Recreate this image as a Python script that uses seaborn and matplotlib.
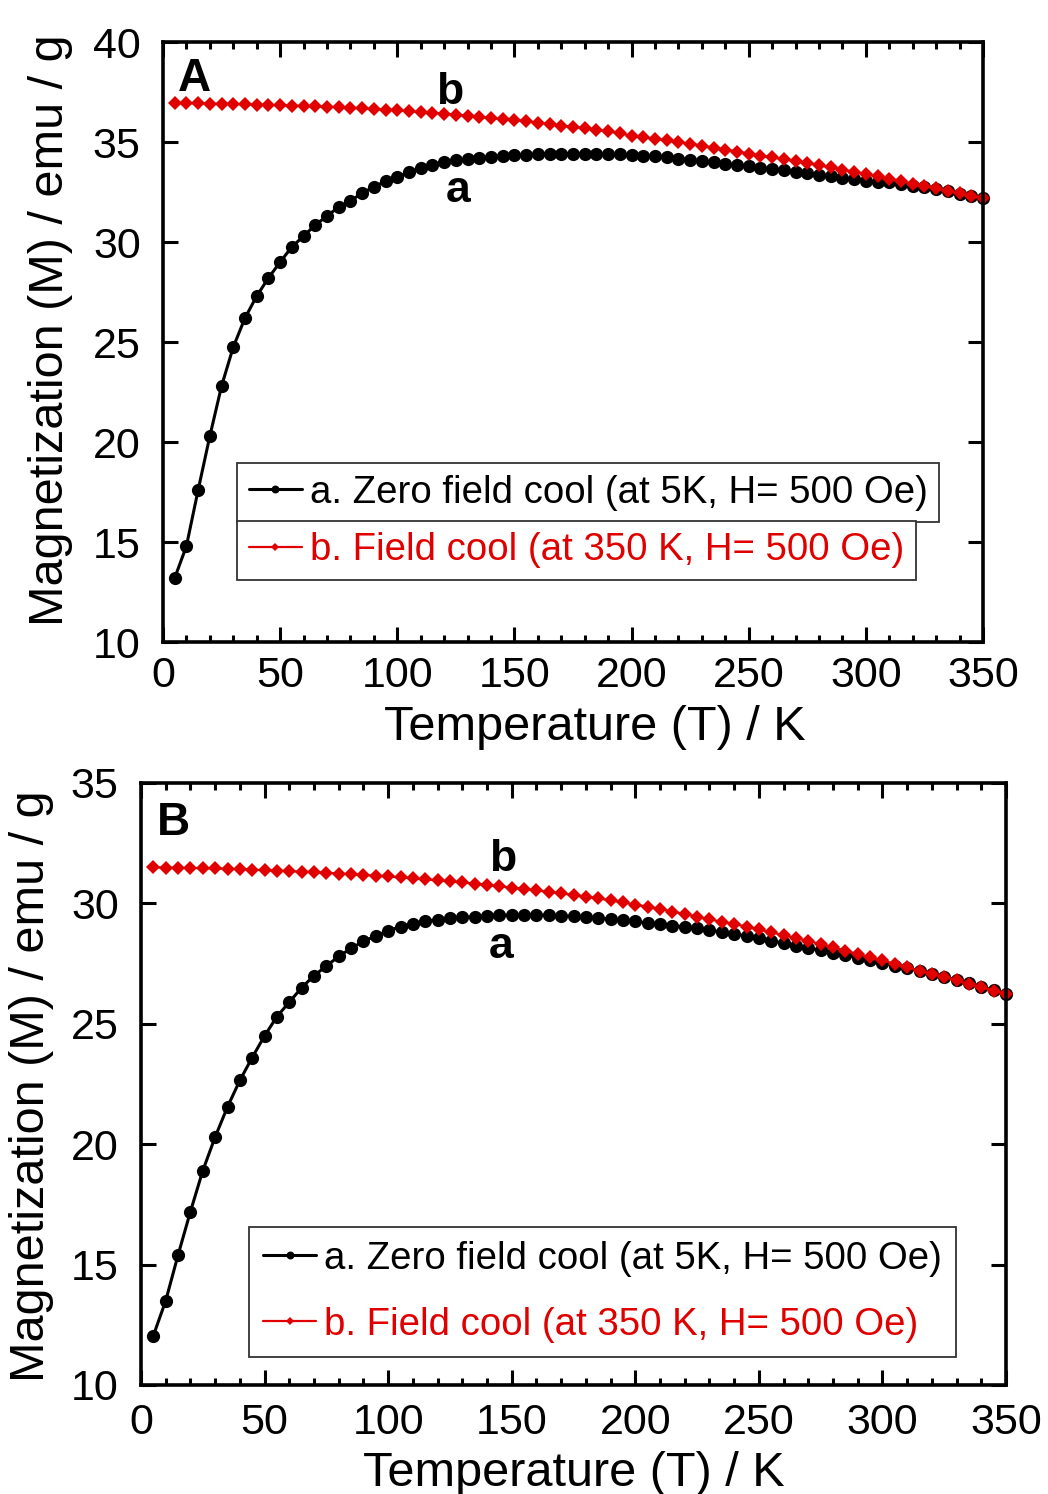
import numpy as np
import pandas as pd
import matplotlib
matplotlib.use("Agg")
import matplotlib.pyplot as plt
from matplotlib.ticker import MultipleLocator
import seaborn as sns

# Temperature grid (K)
temperature = list(range(5, 351, 5))

# Sample A: magnetization (emu/g)
zfc_a = [13.2, 14.8, 17.6, 20.3, 22.8, 24.75, 26.2, 27.3, 28.2, 29.0,
         29.75, 30.3, 30.85, 31.3, 31.75, 32.05, 32.45, 32.75, 33.05, 33.25,
         33.5, 33.7, 33.85, 34.0, 34.08, 34.15, 34.22, 34.27, 34.31, 34.34,
         34.37, 34.39, 34.4, 34.41, 34.41, 34.41, 34.4, 34.4, 34.38, 34.36,
         34.32, 34.28, 34.23, 34.17, 34.12, 34.06, 33.99, 33.92, 33.85, 33.78,
         33.71, 33.64, 33.58, 33.51, 33.44, 33.37, 33.3, 33.22, 33.14, 33.06,
         32.98, 32.98, 32.9, 32.82, 32.73, 32.64, 32.53, 32.42, 32.31, 32.2]
fc_a = [36.95, 36.94, 36.93, 36.92, 36.91, 36.9, 36.88, 36.87, 36.85, 36.84,
        36.82, 36.8, 36.78, 36.76, 36.74, 36.71, 36.68, 36.65, 36.62, 36.58,
        36.54, 36.5, 36.46, 36.42, 36.37, 36.32, 36.26, 36.2, 36.14, 36.1,
        36.04, 35.97, 35.9, 35.82, 35.76, 35.69, 35.62, 35.54, 35.43, 35.32,
        35.24, 35.16, 35.08, 35.0, 34.91, 34.82, 34.72, 34.62, 34.52, 34.42,
        34.32, 34.23, 34.14, 34.04, 33.94, 33.84, 33.73, 33.62, 33.51, 33.4,
        33.28, 33.16, 33.04, 32.92, 32.8, 32.68, 32.55, 32.43, 32.31, 32.2]

# Sample B: magnetization (emu/g)
zfc_b = [12.05, 13.5, 15.4, 17.2, 18.9, 20.3, 21.55, 22.65, 23.6, 24.5,
         25.3, 25.9, 26.5, 27.0, 27.4, 27.8, 28.13, 28.42, 28.65, 28.86,
         29.04, 29.16, 29.25, 29.33, 29.38, 29.42, 29.45, 29.48, 29.5, 29.51,
         29.52, 29.52, 29.51, 29.49, 29.46, 29.43, 29.39, 29.35, 29.3, 29.25,
         29.19, 29.13, 29.08, 29.02, 28.96, 28.89, 28.81, 28.73, 28.65, 28.55,
         28.45, 28.35, 28.25, 28.15, 28.05, 27.96, 27.85, 27.74, 27.63, 27.53,
         27.42, 27.31, 27.2, 27.08, 26.95, 26.82, 26.68, 26.53, 26.39, 26.24]
fc_b = [31.5, 31.49, 31.48, 31.47, 31.46, 31.45, 31.44, 31.42, 31.4, 31.38,
        31.36, 31.34, 31.32, 31.3, 31.27, 31.24, 31.21, 31.18, 31.15, 31.12,
        31.08, 31.04, 31.0, 30.96, 30.91, 30.87, 30.82, 30.77, 30.71, 30.66,
        30.6, 30.54, 30.48, 30.42, 30.35, 30.28, 30.21, 30.13, 30.04, 29.95,
        29.86, 29.77, 29.66, 29.56, 29.45, 29.34, 29.24, 29.14, 29.04, 28.92,
        28.8, 28.68, 28.56, 28.44, 28.31, 28.18, 28.04, 27.9, 27.76, 27.63,
        27.49, 27.35, 27.2, 27.07, 26.94, 26.8, 26.66, 26.52, 26.38, 26.24]

label_zfc = "a. Zero field cool (at 5K, H= 500 Oe)"
label_fc = "b. Field cool (at 350 K, H= 500 Oe)"

RED = "#E00000"

sns.set_style("ticks")
plt.rcParams["font.family"] = ["Liberation Sans", "DejaVu Sans"]
plt.rcParams["text.color"] = "black"
plt.rcParams["axes.labelcolor"] = "black"
plt.rcParams["xtick.color"] = "black"
plt.rcParams["ytick.color"] = "black"

W, H = 1048, 1494
fig = plt.figure(figsize=(W / 100, H / 100), dpi=100)


def px_axes(left, top, right, bottom):
    return fig.add_axes([left / W, 1 - bottom / H, (right - left) / W, (bottom - top) / H])


def draw_panel(ax, zfc, fc, ylim):
    df = pd.DataFrame({"T": temperature, "ZFC": zfc, "FC": fc})
    sns.lineplot(data=df, x="T", y="ZFC", ax=ax, color="black", lw=2.2,
                 marker="o", markersize=9.5, markeredgewidth=0, clip_on=False)
    sns.lineplot(data=df, x="T", y="FC", ax=ax, color=RED, lw=1.6,
                 marker="D", markersize=7.5, markeredgewidth=0, clip_on=False)
    ax.set_xlim(0, 350)
    ax.set_ylim(*ylim)
    ax.xaxis.set_major_locator(MultipleLocator(50))
    ax.xaxis.set_minor_locator(MultipleLocator(10))
    ax.yaxis.set_major_locator(MultipleLocator(5))
    ax.tick_params(which="both", direction="in", top=True, right=True,
                   width=2.2, labelsize=31, color="black", labelcolor="black")
    ax.tick_params(which="major", length=11)
    ax.tick_params(which="minor", length=5)
    ax.tick_params(axis="x", pad=10)
    ax.tick_params(axis="y", pad=16)
    for s in ax.spines.values():
        s.set_linewidth(2.6)
        s.set_color("black")
    ax.set_xlabel("Temperature (T) / K", fontsize=35, color="black")
    ax.set_ylabel("Magnetization (M) / emu / g", fontsize=35, color="black")
    lines = ax.get_lines()
    return lines[0], lines[1]


def style_legend(leg):
    fr = leg.get_frame()
    fr.set_linewidth(1.3)
    fr.set_edgecolor("#333333")
    fr.set_facecolor("white")
    fr.set_alpha(1)


leg_kw = dict(fontsize=27.6, fancybox=False, handlelength=1.4,
              handletextpad=0.2, borderaxespad=0, markerscale=0.6, loc="upper left",
              bbox_transform=fig.transFigure)

# Panel A
axA = px_axes(163, 42, 983, 642)
hA0, hA1 = draw_panel(axA, zfc_a, fc_a, (10, 40))
axA.xaxis.set_label_coords(0.527, -0.105)
axA.yaxis.set_label_coords(-0.11, 0.52)
legA1 = axA.legend([hA0], [label_zfc], bbox_to_anchor=(237 / W, 1 - 463 / H),
                   labelcolor=["black"], borderpad=0.3, **leg_kw)
style_legend(legA1)
axA.add_artist(legA1)
legA2 = axA.legend([hA1], [label_fc], bbox_to_anchor=(237 / W, 1 - 521 / H),
                   labelcolor=[RED], borderpad=0.3, **leg_kw)
style_legend(legA2)
axA.text(0.018, 0.975, "A", transform=axA.transAxes, fontsize=33,
         fontweight="bold", va="top", ha="left")
axA.text(122.5, 37.45, "b", fontsize=32, fontweight="bold", ha="center", va="center")
axA.text(126, 32.6, "a", fontsize=32, fontweight="bold", ha="center", va="center")

# Panel B
axB = px_axes(141, 783, 1006, 1385)
hB0, hB1 = draw_panel(axB, zfc_b, fc_b, (10, 35))
axB.tick_params(axis="x", pad=13)
axB.xaxis.set_label_coords(0.5, -0.11)
axB.yaxis.set_label_coords(-0.1, 0.496)
legB = axB.legend([hB0, hB1], [label_zfc, label_fc],
                  bbox_to_anchor=(249 / W, 1 - 1227 / H),
                  labelcolor=["black", RED], labelspacing=0.78, borderpad=0.36,
                  **leg_kw)
style_legend(legB)
axB.text(0.018, 0.97, "B", transform=axB.transAxes, fontsize=33,
         fontweight="bold", va="top", ha="left")
axB.text(146.5, 31.83, "b", fontsize=32, fontweight="bold", ha="center", va="center")
axB.text(145.7, 28.2, "a", fontsize=32, fontweight="bold", ha="center", va="center")

fig.savefig("out.png", dpi=100, facecolor="white")
